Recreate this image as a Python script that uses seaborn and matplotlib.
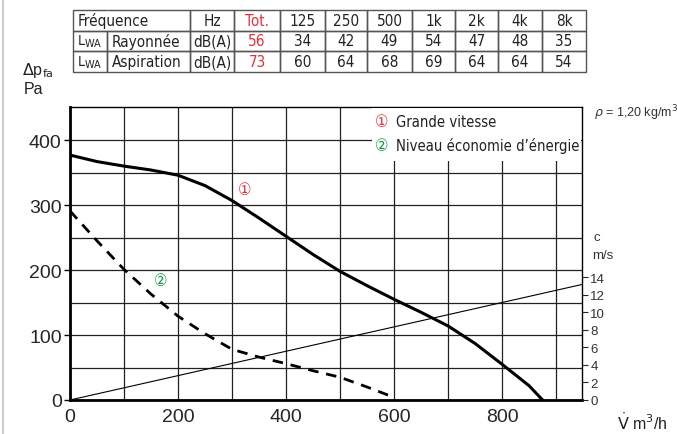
import matplotlib
matplotlib.use("Agg")
import matplotlib.pyplot as plt
from matplotlib.lines import Line2D
from matplotlib.patches import Rectangle
import seaborn as sns

# table data
freq_labels = ['Hz', 'Tot.', '125', '250', '500', '1k', '2k', '4k', '8k']
rayonnee = ['dB(A)', '56', '34', '42', '49', '54', '47', '48', '35']
aspiration = ['dB(A)', '73', '60', '64', '68', '69', '64', '64', '54']

# curve 1 : grande vitesse
flow1 = [0, 50, 100, 150, 200, 250, 300, 350, 400, 450, 500, 550, 600, 650, 700, 750, 800, 850, 875]
dp1 = [377, 367, 360, 354, 346, 330, 307, 280, 252, 224, 198, 176, 155, 135, 114, 87, 55, 22, 0]

# curve 2 : niveau economie d'energie
flow2 = [0, 50, 100, 150, 200, 250, 300, 350, 400, 450, 500, 550, 600]
dp2 = [291, 245, 201, 163, 129, 102, 78, 66, 56, 45, 35, 20, 4]

# air velocity line (m/s)
flow_c = [0, 950]
vel_c = [0, 13.2]

sns.set_style("white")
narrow = ['Liberation Sans Narrow', 'DejaVu Sans']
plt.rcParams['font.family'] = ['Liberation Sans', 'DejaVu Sans']

W, H = 677, 435
fig = plt.figure(figsize=(W / 100, H / 100), dpi=100)
ax = fig.add_axes([70 / W, 1 - 401 / H, 512 / W, 293 / H])

sns.lineplot(x=flow1, y=dp1, ax=ax, color='black', lw=2.2, zorder=4)
sns.lineplot(x=flow2, y=dp2, ax=ax, color='black', lw=2.0, zorder=4,
             dashes=False).lines[-1].set_dashes((3.8, 2.8))

ax.set_xlim(0, 948)
ax.set_ylim(0, 451)
ax.set_xticks([0, 200, 400, 600, 800])
ax.set_xticks(range(0, 1000, 100), minor=True)
ax.set_yticks([0, 100, 200, 300, 400])
ax.set_yticks(range(0, 450, 50), minor=True)
ax.grid(True, which='both', color='#222222', lw=0.9)
ax.set_axisbelow(True)
ax.tick_params(which='major', length=4, width=1, color='black', labelsize=14, pad=2)
ax.tick_params(which='minor', length=0)
for side in ['left', 'bottom']:
    ax.spines[side].set_linewidth(2)
    ax.spines[side].set_color('black')
for side in ['top', 'right']:
    ax.spines[side].set_linewidth(1)
    ax.spines[side].set_color('black')


def label(x, y, s, color, size=10.6, ha='left'):
    t = ax.text(x, y, s, color=color, fontsize=size, ha=ha, va='center', family=narrow, zorder=5)
    t.set_fontstretch('condensed')
    return t


# legend box
ax.add_patch(Rectangle((560, 368), 386, 82, facecolor='white', edgecolor='none', zorder=3))
label(565, 429, '①', '#e0303c', 12)
label(604, 429, 'Grande vitesse', '#222222')
label(565, 392, '②', '#1a9a4a', 12)
label(604, 392, 'Niveau économie d’énergie', '#222222')

label(324, 325, '①', '#e0303c', 12, ha='center')
label(167, 185, '②', '#1a9a4a', 12, ha='center')

# right axis : velocity
ax2 = ax.twinx()
sns.lineplot(x=flow_c, y=vel_c, ax=ax2, color='black', lw=0.8)
ax2.set_ylim(0, 451 / 13.5)
ax2.set_yticks(range(0, 15, 2))
ax2.tick_params(axis='y', length=4, width=0.8, labelsize=9.5, labelcolor='#333333', pad=2)
ax2.grid(False)
for s in ax2.spines.values():
    s.set_visible(False)

fig.text(594 / W, 1 - 238 / H, 'c', fontsize=9.5, color='#333333', va='center')
fig.text(592 / W, 1 - 256 / H, 'm/s', fontsize=9.5, color='#333333', va='center')
fig.text(594 / W, 1 - 113 / H, r'$\rho$ = 1,20 kg/m$^3$', fontsize=9, color='#333333', va='center')
fig.text(617 / W, 1 - 422 / H, r'$\dot{\rm V}$ m$^3$/h', fontsize=11.5, color='#222222', va='center')
fig.text(22 / W, 1 - 70 / H, r'$\Delta$p$_{\rm fa}$', fontsize=11.5, color='#222222', va='center')
fig.text(24 / W, 1 - 89 / H, 'Pa', fontsize=11.5, color='#222222', va='center')

fig.add_artist(Line2D([3 / W, 3 / W], [0, 1], color='#cccccc', lw=1.5))

# noise table
tax = fig.add_axes([73 / W, 1 - 73 / H, 513 / W, 62 / H])
tax.axis('off')
lwa = r'L$_{\rm WA}$'
cells = [['Fréquence', ''] + freq_labels,
         [lwa, 'Rayonnée'] + rayonnee,
         [lwa, 'Aspiration'] + aspiration]
widths = [34, 83, 44, 46, 45, 42, 45, 43, 43, 44, 44]
tbl = tax.table(cellText=cells, colWidths=[w / sum(widths) for w in widths],
                bbox=[0, 0, 1, 1], cellLoc='center')
tbl.auto_set_font_size(False)
for (r, c), cell in tbl.get_celld().items():
    cell.set_edgecolor('#555555')
    cell.set_facecolor('none')
    cell.set_linewidth(1)
    t = cell.get_text()
    t.set_fontsize(11)
    t.set_family(narrow)
    t.set_fontstretch('condensed')
    t.set_color('#222222')
    t.set_clip_on(False)
    if c == 3:
        t.set_color('#e0303c')
    if c == 1:
        t.set_ha('left')
        cell.PAD = 0.06
    if c == 0 and r > 0:
        t.set_fontsize(10)
    if r == 0 and c == 0:
        cell.visible_edges = 'BTL'
        t.set_ha('left')
        cell.PAD = 0.15
    if r == 0 and c == 1:
        cell.visible_edges = 'BTR'

fig.savefig('out.png', dpi=100)
